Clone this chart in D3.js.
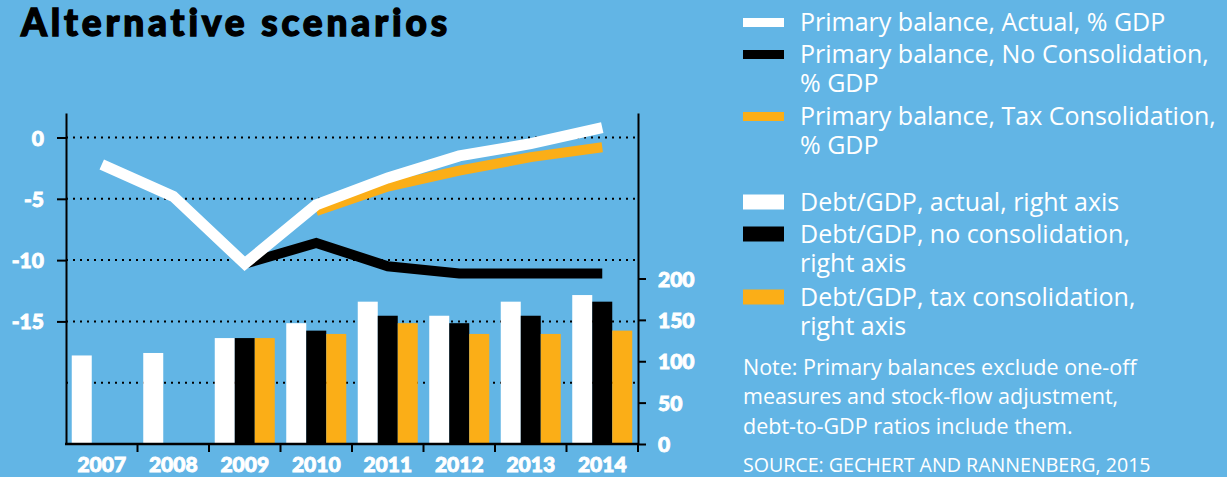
<!DOCTYPE html>
<html>
<head>
<meta charset="utf-8">
<script src="https://cdn.jsdelivr.net/npm/d3@7"></script>
<style>
  html, body { margin: 0; padding: 0; background: #62b5e5; }
  svg { display: block; }
  .leg { font-family: "Open Sans", sans-serif; fill: #fff; }
  .num { font-family: Lato, sans-serif; font-weight: 900; fill: #fff; stroke: #fff; stroke-width: 0.9px; }
</style>
</head>
<body>
<div class="container"></div>
<script>
const WIDTH = 1227;
const HEIGHT = 477;

// data
const years = [2007, 2008, 2009, 2010, 2011, 2012, 2013, 2014];
const pbActual = [-2.2, -4.8, -10.3, -5.5, -3.3, -1.5, -0.5, 0.8];
const pbNoCons = [null, null, -10.3, -8.6, -10.5, -11.1, -11.1, -11.1];
const pbTaxCons = [null, null, null, -6.0, -4.0, -2.7, -1.6, -0.8];
const debtActual = [107, 110, 128, 146, 172, 155, 172, 180];
const debtNoCons = [null, null, 128, 137, 155, 146, 155, 172];
const debtTaxCons = [null, null, 128, 133, 146, 133, 133, 137];
const leftTicks = [0, -5, -10, -15];
const gridTicks = [0, -5, -10, -15, -20];
const rightTicks = [0, 50, 100, 150, 200];

const WHITE = '#ffffff', BLACK = '#000000', ORANGE = '#fbae17';

var translate = function(x, y){
  return "translate(" + x + "," + y + ")";
};

var svg = d3.select('.container').append('svg')
  .attr('width', WIDTH)
  .attr('height', HEIGHT);

svg.append('rect').attr('width', WIDTH).attr('height', HEIGHT).attr('fill', '#62b5e5');

svg.append('text')
  .attr('x', 21).attr('y', 36)
  .attr('textLength', 426).attr('lengthAdjust', 'spacing')
  .style('font-family', 'Lato, sans-serif').style('font-weight', 900)
  .style('font-size', '37px').style('font-variant-ligatures', 'none')
  .attr('fill', '#000').attr('stroke', '#000').attr('stroke-width', 1.4)
  .text('Alternative scenarios');

var x = d3.scaleBand().domain(years).range([66, 638]);
var yL = d3.scaleLinear().domain([-25, 2]).range([444, 113]);
var yR = d3.scaleLinear().domain([0, 400]).range([444, 113]);
var inner = d3.scaleBand().domain([0, 1, 2]).range([5.75, x.bandwidth() - 5.75]);

// dotted gridlines
svg.append('g').selectAll('line').data(gridTicks).join('line')
  .attr('x1', 66).attr('x2', 638)
  .attr('y1', d => yL(d)).attr('y2', d => yL(d))
  .attr('stroke', '#000').attr('stroke-width', 2)
  .attr('stroke-dasharray', '2,5');

// bars
var barSeries = [debtActual, debtNoCons, debtTaxCons];
var barColors = [WHITE, BLACK, ORANGE];
barSeries.forEach(function(s, k){
  svg.append('g').selectAll('rect')
    .data(years.map((yr, i) => ({yr: yr, v: s[i]})).filter(d => d.v != null))
    .join('rect')
    .attr('x', d => x(d.yr) + inner(k))
    .attr('width', inner.bandwidth())
    .attr('y', d => yR(d.v))
    .attr('height', d => yR(0) - yR(d.v))
    .attr('fill', barColors[k]);
});

// lines
var line = d3.line()
  .defined(d => d.v != null)
  .x(d => x(d.yr) + x.bandwidth() / 2)
  .y(d => yL(d.v));

[[pbNoCons, BLACK, 10], [pbTaxCons, ORANGE, 10], [pbActual, WHITE, 11]].forEach(function(s){
  svg.append('path')
    .attr('d', line(years.map((yr, i) => ({yr: yr, v: s[0][i]}))))
    .attr('fill', 'none').attr('stroke', s[1]).attr('stroke-width', s[2])
    .attr('stroke-linejoin', 'miter').attr('stroke-linecap', 'butt');
});

// left axis
var gL = svg.append('g').attr('transform', translate(66, 0))
  .call(d3.axisLeft(yL).tickValues(leftTicks).tickFormat(d => String(d))
    .tickSize(9).tickPadding(13).tickSizeOuter(0));
gL.select('.domain').attr('stroke', '#000').attr('stroke-width', 2);
gL.selectAll('.tick line').attr('stroke', '#000').attr('stroke-width', 2);
gL.selectAll('.tick text').attr('class', 'num').style('font-size', '21px').attr('dy', '0.36em');

// right axis
var gR = svg.append('g').attr('transform', translate(638, 0))
  .call(d3.axisRight(yR).tickValues(rightTicks).tickSize(8).tickPadding(12).tickSizeOuter(0));
gR.select('.domain').attr('stroke', '#000').attr('stroke-width', 2);
gR.selectAll('.tick line').attr('stroke', '#000').attr('stroke-width', 2);
gR.selectAll('.tick text').attr('class', 'num').style('font-size', '21px').attr('dy', '0.36em');

// bottom axis
var gB = svg.append('g').attr('transform', translate(0, 444))
  .call(d3.axisBottom(x).tickSize(0).tickPadding(0));
gB.select('.domain').remove();
gB.selectAll('.tick text').attr('class', 'num').style('font-size', '21px')
  .attr('y', 28).attr('dy', 0);
svg.append('line').attr('x1', 65).attr('x2', 639).attr('y1', 444).attr('y2', 444)
  .attr('stroke', '#000').attr('stroke-width', 2.5);
svg.append('g').selectAll('line').data(years.slice(1).concat(['end'])).join('line')
  .attr('x1', d => d === 'end' ? x(2014) + x.bandwidth() : x(d))
  .attr('x2', d => d === 'end' ? x(2014) + x.bandwidth() : x(d))
  .attr('y1', 444).attr('y2', 452)
  .attr('stroke', '#000').attr('stroke-width', 2);

// legend
const lineLegend = [
  {c: WHITE, lines: ['Primary balance, Actual, % GDP']},
  {c: BLACK, lines: ['Primary balance, No Consolidation,', '% GDP']},
  {c: ORANGE, lines: ['Primary balance, Tax Consolidation,', '% GDP']}
];
const barLegend = [
  {c: WHITE, lines: ['Debt/GDP, actual, right axis']},
  {c: BLACK, lines: ['Debt/GDP, no consolidation,', 'right axis']},
  {c: ORANGE, lines: ['Debt/GDP, tax consolidation,', 'right axis']}
];
const lineBase = [31, 63, 125];
const barBase = [210.5, 242.5, 305.5];

function drawLegend(items, bases, sh){
  items.forEach(function(it, i){
    svg.append('rect').attr('x', 743).attr('width', 41)
      .attr('y', bases[i] - 8.5 - sh / 2).attr('height', sh).attr('fill', it.c);
    it.lines.forEach(function(t, j){
      svg.append('text').attr('class', 'leg').attr('x', 800)
        .attr('y', bases[i] + j * 29).style('font-size', '25px').text(t);
    });
  });
}
drawLegend(lineLegend, lineBase, 9);
drawLegend(barLegend, barBase, 15);

const noteLines = ['Note: Primary balances exclude one-off', 'measures and stock-flow adjustment,', 'debt-to-GDP ratios include them.'];
svg.append('g').selectAll('text').data(noteLines).join('text')
  .attr('class', 'leg').attr('x', 743).attr('y', (d, i) => 375 + i * 29.3)
  .style('font-size', '21.5px').text(d => d);
svg.append('text').attr('class', 'leg').attr('x', 743).attr('y', 472)
  .style('font-size', '19.6px').text('SOURCE: GECHERT AND RANNENBERG, 2015');
</script>
</body>
</html>
